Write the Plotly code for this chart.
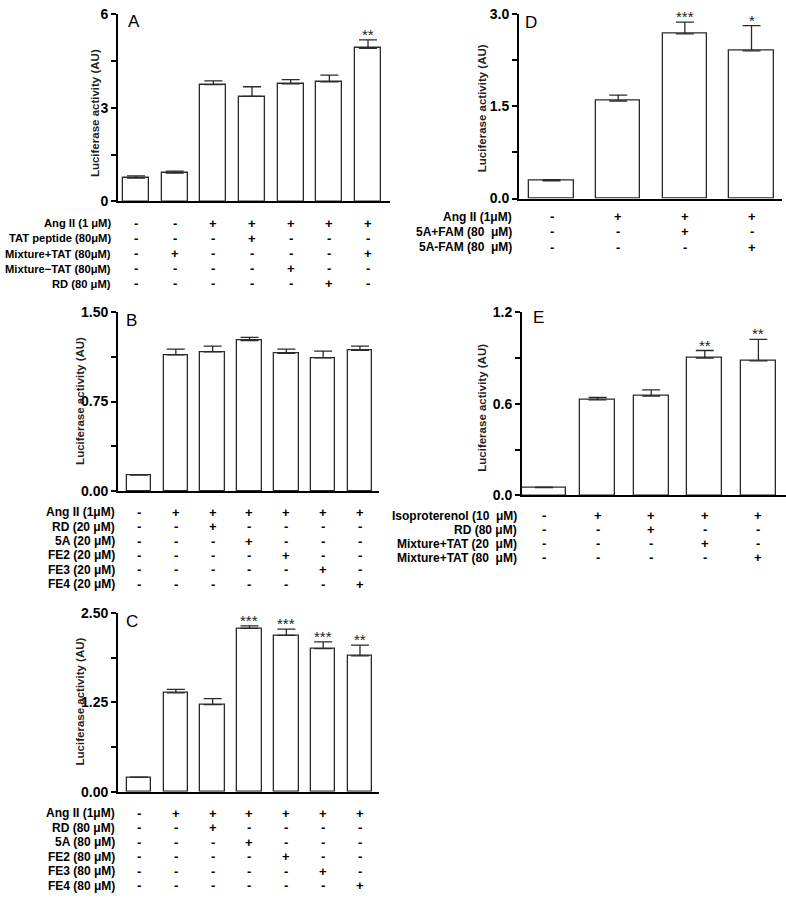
import plotly.graph_objects as go

W, H = 786, 899

# ---------------- data ----------------
A_vals = [0.75, 0.91, 3.74, 3.36, 3.76, 3.83, 4.90]
A_err = [0.07, 0.06, 0.12, 0.31, 0.14, 0.21, 0.27]
A_stars = ["", "", "", "", "", "", "**"]
A_rows = ["Ang II (1 μM)", "TAT peptide (80μM)", "Mixture+TAT (80μM)", "Mixture−TAT (80μM)", "RD (80 μM)"]
A_signs = [["-", "-", "+", "+", "+", "+", "+"],
           ["-", "-", "-", "+", "-", "-", "-"],
           ["-", "+", "-", "-", "-", "-", "+"],
           ["-", "-", "-", "-", "+", "-", "-"],
           ["-", "-", "-", "-", "-", "+", "-"]]
A_ticks = [0, 1.5, 3, 4.5, 6]
A_ticktext = ["0", "", "3", "", "6"]

B_vals = [0.132, 1.143, 1.168, 1.261, 1.154, 1.116, 1.179]
B_err = [0.005, 0.047, 0.047, 0.028, 0.036, 0.058, 0.036]
B_stars = ["", "", "", "", "", "", ""]
B_rows = ["Ang II (1μM)", "RD (20 μM)", "5A (20 μM)", "FE2 (20 μM)", "FE3 (20 μM)", "FE4 (20 μM)"]
B_signs = [["-", "+", "+", "+", "+", "+", "+"],
           ["-", "-", "+", "-", "-", "-", "-"],
           ["-", "-", "-", "+", "-", "-", "-"],
           ["-", "-", "-", "-", "+", "-", "-"],
           ["-", "-", "-", "-", "-", "+", "-"],
           ["-", "-", "-", "-", "-", "-", "+"]]
B_ticks = [0, 0.375, 0.75, 1.125, 1.5]
B_ticktext = ["0.00", "", "0.75", "", "1.50"]

C_vals = [0.20, 1.381, 1.216, 2.281, 2.185, 1.998, 1.897]
C_err = [0.005, 0.05, 0.084, 0.037, 0.087, 0.096, 0.15]
C_stars = ["", "", "", "***", "***", "***", "**"]
C_rows = ["Ang II (1μM)", "RD (80 μM)", "5A (80 μM)", "FE2 (80 μM)", "FE3 (80 μM)", "FE4 (80 μM)"]
C_signs = B_signs
C_ticks = [0, 0.625, 1.25, 1.875, 2.5]
C_ticktext = ["0.00", "", "1.25", "", "2.50"]

D_vals = [0.287, 1.582, 2.672, 2.395]
D_err = [0.02, 0.096, 0.19, 0.41]
D_stars = ["", "", "***", "*"]
D_rows = ["Ang II (1μM)", "5A+FAM (80  μM)", "5A-FAM (80  μM)"]
D_signs = [["-", "+", "+", "+"],
           ["-", "-", "+", "-"],
           ["-", "-", "-", "+"]]
D_ticks = [0, 0.75, 1.5, 2.25, 3.0]
D_ticktext = ["0.0", "", "1.5", "", "3.0"]

E_vals = [0.051, 0.624, 0.650, 0.898, 0.879]
E_err = [0.003, 0.016, 0.04, 0.049, 0.141]
E_stars = ["", "", "", "**", "**"]
E_rows = ["Isoproterenol (10  μM)", "RD (80 μM)", "Mixture+TAT (20  μM)", "Mixture+TAT (80  μM)"]
E_signs = [["-", "+", "+", "+", "+"],
           ["-", "-", "+", "-", "-"],
           ["-", "-", "-", "+", "-"],
           ["-", "-", "-", "-", "+"]]
E_ticks = [0, 0.3, 0.6, 0.9, 1.2]
E_ticktext = ["0.0", "", "0.6", "", "1.2"]

# ---------------- layout geometry (pixels) ----------------
panels = [
    dict(name="A", vals=A_vals, err=A_err, stars=A_stars, rows=A_rows, signs=A_signs,
         ticks=A_ticks, ticktext=A_ticktext, rowfont=11.2,
         left=118, right=390, c0=136, pitch=38.67, bw=0.67, ytop=6, y0=197,
         row0=219, rowstep=15.5, labx=113, title=(95, 107), letter=(126, 14)),
    dict(name="B", vals=B_vals, err=B_err, stars=B_stars, rows=B_rows, signs=B_signs,
         ticks=B_ticks, ticktext=B_ticktext, rowfont=12,
         left=118, right=379, c0=139, pitch=36.83, bw=0.665, ytop=309.7, y0=491.7,
         row0=513.3, rowstep=14.7, labx=117, title=(80, 400), letter=(124, 318)),
    dict(name="C", vals=C_vals, err=C_err, stars=C_stars, rows=C_rows, signs=C_signs,
         ticks=C_ticks, ticktext=C_ticktext, rowfont=12,
         left=118, right=379, c0=139, pitch=36.83, bw=0.665, ytop=615.7, y0=798,
         row0=820, rowstep=14.7, labx=117, title=(80, 706), letter=(124, 625)),
    dict(name="D", vals=D_vals, err=D_err, stars=D_stars, rows=D_rows, signs=D_signs,
         ticks=D_ticks, ticktext=D_ticktext, rowfont=12,
         left=519, right=782, c0=551.5, pitch=66.67, bw=0.667, ytop=5.7, y0=194,
         row0=212.3, rowstep=15.7, labx=514, title=(482, 102), letter=(523, 15)),
    dict(name="E", vals=E_vals, err=E_err, stars=E_stars, rows=E_rows, signs=E_signs,
         ticks=E_ticks, ticktext=E_ticktext, rowfont=12,
         left=522, right=786, c0=544, pitch=53.6, bw=[0.82, 0.65, 0.65, 0.65, 0.66], ytop=309.3, y0=496.3,
         row0=517, rowstep=14.3, labx=519, title=(482, 407), letter=(531, 315)),
]

FONT = "Liberation Sans, Arial, sans-serif"
LINE = "#2a2a2a"

fig = go.Figure()
annotations = []
layout = {}

for k, p in enumerate(panels, start=1):
    n = len(p["vals"])
    xa = "x" if k == 1 else f"x{k}"
    ya = "y" if k == 1 else f"y{k}"
    xkey = "xaxis" if k == 1 else f"xaxis{k}"
    ykey = "yaxis" if k == 1 else f"yaxis{k}"
    xs = list(range(n))
    fig.add_trace(go.Bar(
        x=xs, y=p["vals"], width=p["bw"], xaxis=xa, yaxis=ya,
        marker=dict(color="white", line=dict(color=LINE, width=1.3)),
        error_y=dict(type="data", array=p["err"], arrayminus=[0] * n, symmetric=False,
                     color=LINE, thickness=1.3, width=9),
        showlegend=False, hoverinfo="skip"))
    lo = -(p["c0"] - p["left"]) / p["pitch"]
    hi = (n - 1) + (p["right"] - (p["c0"] + (n - 1) * p["pitch"])) / p["pitch"]
    layout[xkey] = dict(domain=[p["left"] / W, p["right"] / W], range=[lo, hi],
                        showline=True, linecolor="black", linewidth=1.8,
                        showticklabels=False, ticks="", showgrid=False, zeroline=False,
                        anchor=ya)
    layout[ykey] = dict(domain=[1 - p["y0"] / H, 1 - p["ytop"] / H],
                        range=[0, p["ticks"][-1]], tickvals=p["ticks"], ticktext=p["ticktext"],
                        ticks="outside", ticklen=5, tickwidth=1.5, tickcolor="black",
                        showline=True, linecolor="black", linewidth=1.8,
                        showgrid=False, zeroline=False, anchor=xa,
                        tickfont=dict(family=FONT, size=14, color="black", weight="bold"))
    # stars
    for i, s in enumerate(p["stars"]):
        if s:
            annotations.append(dict(x=i, y=p["vals"][i] + p["err"][i], xref=xa, yref=ya,
                                    text=s, showarrow=False, yanchor="bottom", yshift=-5,
                                    font=dict(family=FONT, size=15, color="#222")))
    # table rows
    for r, (lab, signs) in enumerate(zip(p["rows"], p["signs"])):
        yy = 1 - (p["row0"] + r * p["rowstep"]) / H
        annotations.append(dict(x=p["labx"] / W, y=yy, xref="paper", yref="paper",
                                text=lab, showarrow=False, xanchor="right", yanchor="middle",
                                font=dict(family=FONT, size=p["rowfont"], color="black", weight="bold")))
        for i, s in enumerate(signs):
            annotations.append(dict(x=i, y=yy, xref=xa, yref="paper", text=s,
                                    showarrow=False, xanchor="center", yanchor="middle",
                                    font=dict(family=FONT, size=13, color="black", weight="bold")))
    # y title
    tx, ty = p["title"]
    annotations.append(dict(x=tx / W, y=1 - ty / H, xref="paper", yref="paper",
                            text="Luciferase activity (AU)", textangle=-90, showarrow=False,
                            xanchor="center", yanchor="middle",
                            font=dict(family=FONT, size=11.5, color="#222", weight="bold")))
    # panel letter
    lx, ly = p["letter"]
    annotations.append(dict(x=lx / W, y=1 - ly / H, xref="paper", yref="paper",
                            text=p["name"], showarrow=False, xanchor="left", yanchor="middle",
                            font=dict(family=FONT, size=17, color="black")))

fig.update_layout(width=W, height=H, margin=dict(l=0, r=0, t=0, b=0),
                  paper_bgcolor="white", plot_bgcolor="white",
                  annotations=annotations, bargap=0, **layout)

fig.write_html("out.html", config={"displayModeBar": False},
               post_script="document.body.style.margin='0';document.body.style.overflow='hidden';")
